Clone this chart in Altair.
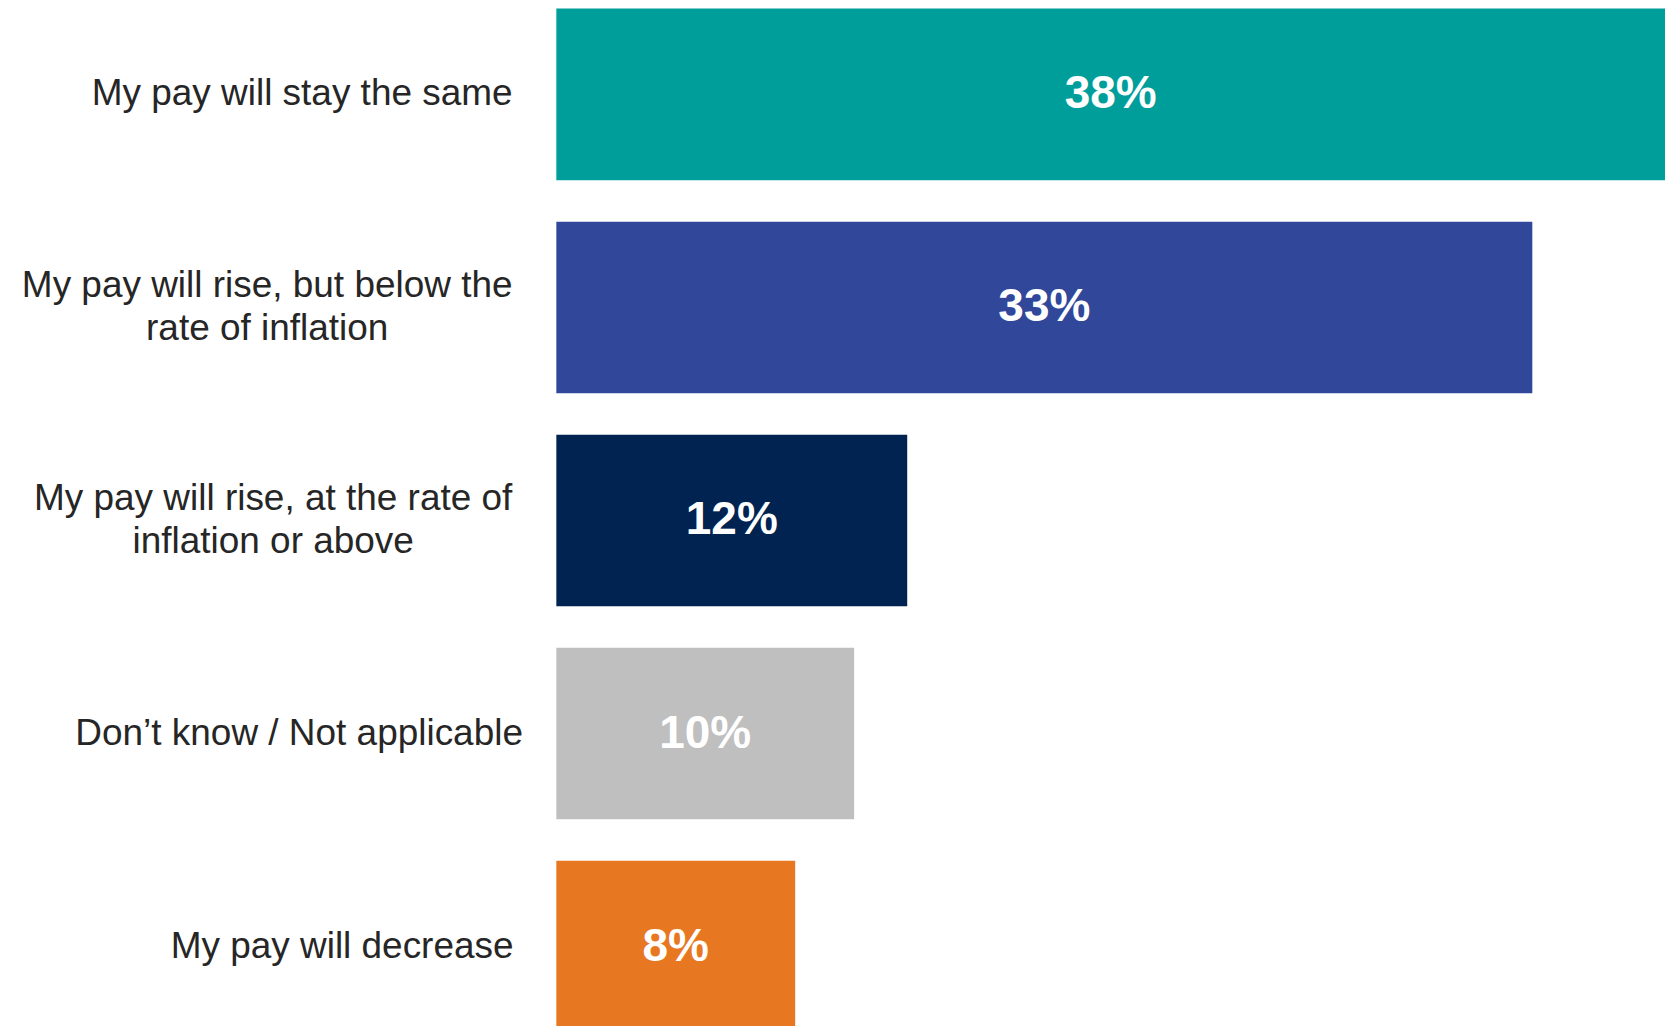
import altair as alt
import pandas as pd

# ---- data ----
categories = [
    "My pay will stay the same",
    "My pay will rise, but below the\nrate of inflation",
    "My pay will rise, at the rate of\ninflation or above",
    "Don\u2019t know / Not applicable",
    "My pay will decrease",
]
values = [37.6, 33.1, 11.9, 10.1, 8.1]
colors = ["#009E9B", "#30479A", "#002352", "#BFBFBF", "#E87722"]

# ---- styles ----
FONT = "Liberation Sans, Arial, sans-serif"
# distance (px) from the axis to the centre of each label block
label_pad_rules = [
    ("indexof(datum.value, 'stay the same') >= 0", 255),
    ("indexof(datum.value, 'below the') >= 0", 290),
    ("indexof(datum.value, 'at the rate') >= 0", 284),
    ("indexof(datum.value, 'Not applicable') >= 0", 258),
]
label_pad_default = 215
LINE_H = 43

df = pd.DataFrame({"category": categories, "value": values})

y_enc = alt.Y(
    "category:N",
    sort=categories,
    scale=alt.Scale(paddingInner=0.194, paddingOuter=0),
    axis=alt.Axis(
        title=None,
        domain=False,
        ticks=False,
        tickSize=0,
        grid=False,
        labelAlign="center",
        labelBaseline="middle",
        labelFont=FONT,
        labelFontSize=37,
        labelColor="#262626",
        labelLimit=800,
        labelOverlap=False,
        labelLineHeight=LINE_H,
        labelExpr="split(datum.label, '\\n')",
        labelPadding={
            "condition": [{"test": t, "value": v} for t, v in label_pad_rules],
            "value": label_pad_default,
        },
        labelOffset={
            "condition": {"test": "indexof(datum.value, '\\n') >= 0", "value": -LINE_H / 2},
            "value": 0,
        },
        minExtent=549,
        maxExtent=549,
    ),
)

x_scale = alt.Scale(domain=[0, max(values)], nice=False, zero=True)

base = alt.Chart(df)

bars = base.mark_bar().encode(
    x=alt.X("value:Q", scale=x_scale, axis=None),
    y=y_enc,
    color=alt.Color(
        "category:N",
        scale=alt.Scale(domain=categories, range=colors),
        legend=None,
    ),
)

text = base.transform_calculate(
    mid="datum.value / 2",
    label="format(round(datum.value), 'd') + '%'",
).mark_text(
    font=FONT,
    fontSize=46,
    fontWeight="bold",
    color="white",
    align="center",
    baseline="middle",
).encode(
    x=alt.X("mid:Q", scale=x_scale, axis=None),
    y=y_enc,
    text="label:N",
)

chart = (
    alt.layer(bars, text)
    .properties(width=1110, height=1025, padding=0, background="white")
    .configure_view(stroke=None)
)

chart.save("out.html", embed_options={"renderer": "svg", "actions": False})
